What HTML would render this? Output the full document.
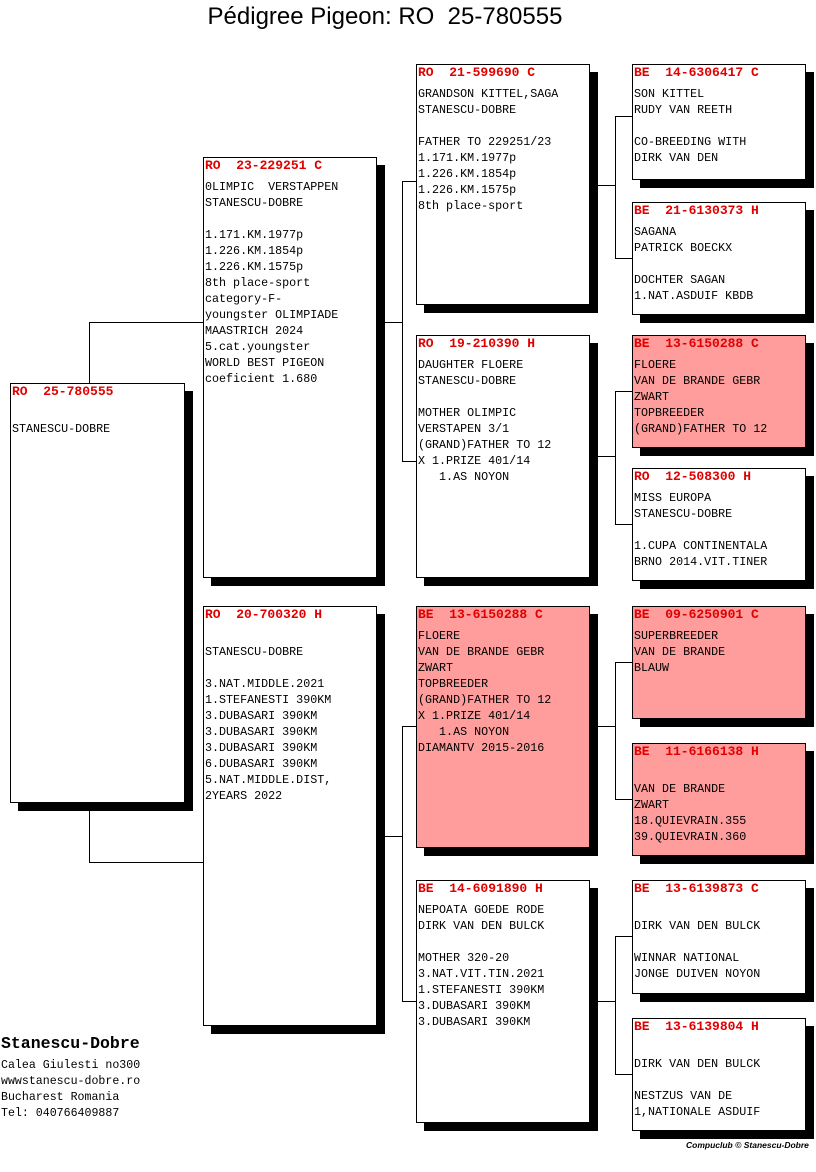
<!DOCTYPE html>
<html><head><meta charset="utf-8"><style>
body{margin:0;width:816px;height:1172px;background:#fff;position:relative;overflow:hidden;font-family:"Liberation Mono",monospace;}
.b{position:absolute;border:1px solid #000;background:#fff;box-shadow:8px 8px 0 #000;box-sizing:border-box;}
.p{background:#ff9c9c;}
.b .h{color:#e00000;font-weight:bold;font-size:13px;position:absolute;left:1px;top:0px;white-space:pre;}
.b .t{position:absolute;left:1px;top:21px;font-size:11.7px;line-height:16px;white-space:pre;color:#000;}
.l{position:absolute;background:#000;}
</style></head><body>
<div style="position:absolute;left:0;width:770px;top:3px;text-align:center;font-family:'Liberation Sans',sans-serif;font-size:24px;">Pédigree Pigeon: RO&nbsp; 25-780555</div>

<!-- connectors -->
<div class="l" style="left:89px;top:322px;width:1px;height:61px"></div>
<div class="l" style="left:89px;top:322px;width:114px;height:1px"></div>
<div class="l" style="left:89px;top:810px;width:1px;height:52px"></div>
<div class="l" style="left:89px;top:862px;width:114px;height:1px"></div>

<div class="l" style="left:384px;top:322px;width:18px;height:1px"></div>
<div class="l" style="left:402px;top:181px;width:1px;height:280px"></div>
<div class="l" style="left:402px;top:181px;width:14px;height:1px"></div>
<div class="l" style="left:402px;top:461px;width:14px;height:1px"></div>
<div class="l" style="left:384px;top:836px;width:18px;height:1px"></div>
<div class="l" style="left:402px;top:726px;width:1px;height:275px"></div>
<div class="l" style="left:402px;top:726px;width:14px;height:1px"></div>
<div class="l" style="left:402px;top:1001px;width:14px;height:1px"></div>

<div class="l" style="left:597px;top:185px;width:18px;height:1px"></div>
<div class="l" style="left:615px;top:116px;width:1px;height:142px"></div>
<div class="l" style="left:615px;top:116px;width:17px;height:1px"></div>
<div class="l" style="left:615px;top:258px;width:17px;height:1px"></div>
<div class="l" style="left:597px;top:456px;width:18px;height:1px"></div>
<div class="l" style="left:615px;top:391px;width:1px;height:133px"></div>
<div class="l" style="left:615px;top:391px;width:17px;height:1px"></div>
<div class="l" style="left:615px;top:524px;width:17px;height:1px"></div>
<div class="l" style="left:597px;top:726px;width:18px;height:1px"></div>
<div class="l" style="left:615px;top:662px;width:1px;height:137px"></div>
<div class="l" style="left:615px;top:662px;width:17px;height:1px"></div>
<div class="l" style="left:615px;top:799px;width:17px;height:1px"></div>
<div class="l" style="left:597px;top:1001px;width:18px;height:1px"></div>
<div class="l" style="left:615px;top:936px;width:1px;height:138px"></div>
<div class="l" style="left:615px;top:936px;width:17px;height:1px"></div>
<div class="l" style="left:615px;top:1074px;width:17px;height:1px"></div>

<!-- boxes -->
<div class="b" style="left:10px;top:383px;width:175px;height:420px"><div class="h">RO  25-780555</div><div class="t">
STANESCU-DOBRE</div></div>

<div class="b" style="left:203px;top:157px;width:174px;height:421px"><div class="h">RO  23-229251 C</div><div class="t">0LIMPIC  VERSTAPPEN
STANESCU-DOBRE

1.171.KM.1977p
1.226.KM.1854p
1.226.KM.1575p
8th place-sport
category-F-
youngster OLIMPIADE
MAASTRICH 2024
5.cat.youngster
WORLD BEST PIGEON
coeficient 1.680</div></div>

<div class="b" style="left:203px;top:606px;width:174px;height:420px"><div class="h">RO  20-700320 H</div><div class="t">
STANESCU-DOBRE

3.NAT.MIDDLE.2021
1.STEFANESTI 390KM
3.DUBASARI 390KM
3.DUBASARI 390KM
3.DUBASARI 390KM
6.DUBASARI 390KM
5.NAT.MIDDLE.DIST,
2YEARS 2022</div></div>

<div class="b" style="left:416px;top:64px;width:174px;height:241px"><div class="h">RO  21-599690 C</div><div class="t">GRANDSON KITTEL,SAGA
STANESCU-DOBRE

FATHER TO 229251/23
1.171.KM.1977p
1.226.KM.1854p
1.226.KM.1575p
8th place-sport</div></div>

<div class="b" style="left:416px;top:335px;width:174px;height:243px"><div class="h">RO  19-210390 H</div><div class="t">DAUGHTER FLOERE
STANESCU-DOBRE

MOTHER OLIMPIC
VERSTAPEN 3/1
(GRAND)FATHER TO 12
X 1.PRIZE 401/14
   1.AS NOYON</div></div>

<div class="b p" style="left:416px;top:606px;width:174px;height:242px"><div class="h">BE  13-6150288 C</div><div class="t">FLOERE
VAN DE BRANDE GEBR
ZWART
TOPBREEDER
(GRAND)FATHER TO 12
X 1.PRIZE 401/14
   1.AS NOYON
DIAMANTV 2015-2016</div></div>

<div class="b" style="left:416px;top:880px;width:174px;height:243px"><div class="h">BE  14-6091890 H</div><div class="t">NEPOATA GOEDE RODE
DIRK VAN DEN BULCK

MOTHER 320-20
3.NAT.VIT.TIN.2021
1.STEFANESTI 390KM
3.DUBASARI 390KM
3.DUBASARI 390KM</div></div>

<div class="b" style="left:632px;top:64px;width:174px;height:116px"><div class="h">BE  14-6306417 C</div><div class="t">SON KITTEL
RUDY VAN REETH

CO-BREEDING WITH
DIRK VAN DEN</div></div>
<div class="b" style="left:632px;top:202px;width:174px;height:113px"><div class="h">BE  21-6130373 H</div><div class="t">SAGANA
PATRICK BOECKX

DOCHTER SAGAN
1.NAT.ASDUIF KBDB</div></div>
<div class="b p" style="left:632px;top:335px;width:174px;height:113px"><div class="h">BE  13-6150288 C</div><div class="t">FLOERE
VAN DE BRANDE GEBR
ZWART
TOPBREEDER
(GRAND)FATHER TO 12</div></div>
<div class="b" style="left:632px;top:468px;width:174px;height:113px"><div class="h">RO  12-508300 H</div><div class="t">MISS EUROPA
STANESCU-DOBRE

1.CUPA CONTINENTALA
BRNO 2014.VIT.TINER</div></div>
<div class="b p" style="left:632px;top:606px;width:174px;height:113px"><div class="h">BE  09-6250901 C</div><div class="t">SUPERBREEDER
VAN DE BRANDE
BLAUW</div></div>
<div class="b p" style="left:632px;top:743px;width:174px;height:113px"><div class="h">BE  11-6166138 H</div><div class="t">
VAN DE BRANDE
ZWART
18.QUIEVRAIN.355
39.QUIEVRAIN.360</div></div>
<div class="b" style="left:632px;top:880px;width:174px;height:114px"><div class="h">BE  13-6139873 C</div><div class="t">
DIRK VAN DEN BULCK

WINNAR NATIONAL
JONGE DUIVEN NOYON</div></div>
<div class="b" style="left:632px;top:1018px;width:174px;height:113px"><div class="h">BE  13-6139804 H</div><div class="t">
DIRK VAN DEN BULCK

NESTZUS VAN DE
1,NATIONALE ASDUIF</div></div>

<div style="position:absolute;left:1px;top:1034px;font-weight:bold;font-size:16.5px;">Stanescu-Dobre</div>
<div style="position:absolute;left:1px;top:1058px;font-size:11.6px;line-height:16px;white-space:pre;">Calea Giulesti no300
wwwstanescu-dobre.ro
Bucharest Romania
Tel: 040766409887</div>
<div style="position:absolute;left:686px;top:1140px;white-space:nowrap;font-family:'Liberation Sans',sans-serif;font-style:italic;font-weight:bold;font-size:8.5px;">Compuclub © Stanescu-Dobre</div>
</body></html>
